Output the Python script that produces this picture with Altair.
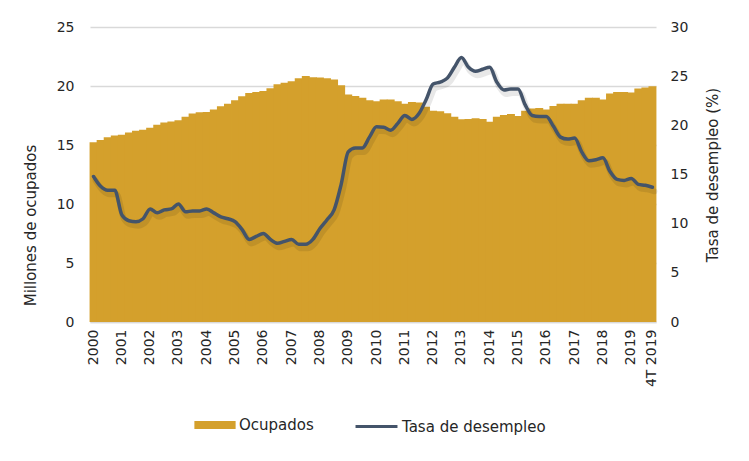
import altair as alt
import pandas as pd

years = list(range(2000, 2020))
quarters = [f"{y}-{q}T" for y in years for q in range(1, 5)]

ocupados = [
    15.23, 15.42, 15.65, 15.80,
    15.86, 16.05, 16.20, 16.30,
    16.47, 16.72, 16.90, 17.00,
    17.10, 17.40, 17.68, 17.77,
    17.80, 18.00, 18.28, 18.50,
    18.80, 19.13, 19.40, 19.50,
    19.57, 19.80, 20.15, 20.27,
    20.40, 20.65, 20.85, 20.75,
    20.72, 20.65, 20.55, 20.06,
    19.27, 19.15, 19.00, 18.80,
    18.70, 18.85, 18.85, 18.70,
    18.50, 18.65, 18.60, 18.25,
    17.90, 17.85, 17.70, 17.40,
    17.18, 17.20, 17.27, 17.20,
    16.97, 17.40, 17.55, 17.62,
    17.45, 17.90, 18.10, 18.13,
    18.00, 18.30, 18.50, 18.50,
    18.50, 18.80, 19.00, 19.00,
    18.85, 19.37, 19.50, 19.50,
    19.45, 19.78, 19.87, 19.97,
]

tasa = [
    14.8, 13.8, 13.4, 13.4,
    10.9, 10.3, 10.2, 10.5,
    11.5, 11.1, 11.4, 11.5,
    12.0, 11.2, 11.3, 11.3,
    11.5, 11.1, 10.7, 10.5,
    10.2, 9.4, 8.4, 8.7,
    9.0, 8.4, 8.0, 8.2,
    8.4, 7.9, 7.9, 8.4,
    9.5, 10.4, 11.4, 14.0,
    17.3, 17.7, 17.7, 18.8,
    19.85, 19.8, 19.5, 20.2,
    21.0, 20.6, 21.2, 22.6,
    24.2, 24.4, 24.8, 25.9,
    26.9, 25.9, 25.5, 25.7,
    25.9, 24.4, 23.6, 23.7,
    23.7, 22.1, 21.0, 20.9,
    20.9, 19.9, 18.8, 18.6,
    18.7, 17.3, 16.4, 16.5,
    16.7, 15.3, 14.5, 14.4,
    14.6, 14.0, 13.9, 13.7,
]

serie_bar = "Ocupados"
serie_line = "Tasa de desempleo"

df = pd.DataFrame({
    "periodo": quarters,
    "ocupados": ocupados,
    "tasa": tasa,
    "s1": serie_bar,
    "s2": serie_line,
})

BAR = "#D4A02C"
LINE = "#44546A"
FONT = "DejaVu Sans"
TXT = "#262626"
GRID = "#D9D9D9"

label_expr = ("slice(datum.value, 5) == '1T' ? slice(datum.value, 0, 4) : "
              "(datum.value == '2019-4T' ? '4T 2019' : '')")

x = alt.X(
    "periodo:N", sort=quarters, title=None,
    scale=alt.Scale(paddingInner=0, paddingOuter=0),
    axis=alt.Axis(labelAngle=-90, labelExpr=label_expr, ticks=False,
                  domainColor=GRID, domainWidth=1.5, labelPadding=7,
                  labelFont=FONT, labelFontSize=14, labelColor=TXT),
)

bars = alt.Chart(df).mark_bar(
    opacity=1, width=alt.RelativeBandSize(1.12)
).encode(
    x=x,
    y=alt.Y("ocupados:Q", scale=alt.Scale(domain=[0, 25]),
            axis=alt.Axis(title="Millones de ocupados", values=[0, 5, 10, 15, 20, 25],
                          grid=True, gridColor=GRID, gridWidth=1.5,
                          domain=False, ticks=False, labelPadding=16,
                          labelFont=FONT, labelFontSize=14, labelColor=TXT,
                          titleFont=FONT, titleFontSize=15, titleFontWeight="normal",
                          titleColor=TXT, titlePadding=18, titleY=198)),
    fill=alt.Fill("s1:N", scale=alt.Scale(domain=[serie_bar], range=[BAR]),
                  legend=alt.Legend(title=None, orient="none", legendX=104, legendY=377,
                                    symbolType="M-1,-0.2H1V0.2H-1Z", symbolSize=1700,
                                    symbolStrokeWidth=0, symbolOpacity=1,
                                    labelFont=FONT, labelFontSize=15, labelColor=TXT,
                                    labelOffset=3)),
)

y_rate_axis = alt.Axis(title="Tasa de desempleo (%)", orient="right",
                       values=[0, 5, 10, 15, 20, 25, 30], grid=False,
                       domain=False, ticks=False, labelPadding=14,
                       labelFont=FONT, labelFontSize=14, labelColor=TXT,
                       titleFont=FONT, titleFontSize=15, titleFontWeight="normal",
                       titleColor=TXT, titlePadding=33, titleAngle=270)

shadow = alt.Chart(df).mark_line(
    interpolate="monotone", strokeWidth=6, color="#000000", opacity=0.09,
    xOffset=2, yOffset=4, strokeCap="round"
).encode(
    x=x,
    y=alt.Y("tasa:Q", scale=alt.Scale(domain=[0, 30]), axis=y_rate_axis),
)

line = alt.Chart(df).mark_line(
    interpolate="monotone", strokeWidth=3.5, strokeCap="round"
).encode(
    x=x,
    y=alt.Y("tasa:Q", scale=alt.Scale(domain=[0, 30]), axis=y_rate_axis),
    stroke=alt.Stroke("s2:N", scale=alt.Scale(domain=[serie_line], range=[LINE]),
                      legend=alt.Legend(title=None, orient="none", legendX=264, legendY=377,
                                        symbolType="stroke", symbolSize=1760,
                                        symbolStrokeWidth=3,
                                        labelFont=FONT, labelFontSize=15, labelColor=TXT,
                                        labelOffset=3)),
)

rate_layer = alt.layer(shadow, line)

chart = alt.layer(bars, rate_layer).resolve_scale(
    y="independent"
).properties(
    width=566, height=295,
    padding={"left": 15, "top": 12, "right": 5, "bottom": 5},
    background="white",
).configure_view(stroke=None)

chart.save("out.html", embed_options={"renderer": "svg", "actions": False})
